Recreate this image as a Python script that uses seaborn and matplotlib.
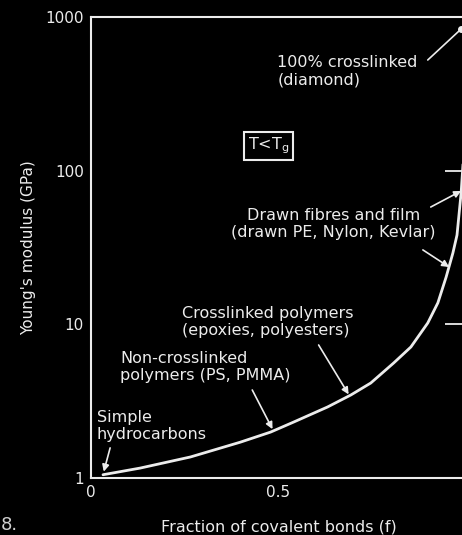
import numpy as np
import pandas as pd
import matplotlib
matplotlib.use("Agg")
import matplotlib.pyplot as plt
import seaborn as sns

# Curve data (fraction of covalent bonds vs Young's modulus, GPa)
f_values = [0.032, 0.131, 0.265, 0.398, 0.479, 0.540, 0.631, 0.693, 0.746, 0.807,
            0.853, 0.898, 0.925, 0.947, 0.965, 0.976, 0.987, 0.992]
E_values = [1.05, 1.16, 1.37, 1.71, 1.99, 2.31, 2.90, 3.47, 4.15, 5.60,
            7.12, 10.2, 13.8, 20.3, 29.1, 38.1, 71.6, 110.0]
diamond_f = [0.987]
diamond_E = [835.0]

x_ticks = [0, 0.5]
x_tick_labels = ["0", "0.5"]
y_ticks = [1, 10, 100, 1000]
y_tick_labels = ["1", "10", "100", "1000"]

labels = {
    "diamond": "100% crosslinked\n(diamond)",
    "fibres": "Drawn fibres and film\n(drawn PE, Nylon, Kevlar)",
    "crosslinked": "Crosslinked polymers\n(epoxies, polyesters)",
    "noncross": "Non-crosslinked\npolymers (PS, PMMA)",
    "simple": "Simple\nhydrocarbons",
}

sns.set_style("dark")
plt.rcParams["font.family"] = ["DejaVu Sans"]
FG = "#ececec"

W, H = 462, 535
fig = plt.figure(figsize=(W / 100, H / 100), dpi=100, facecolor="black")
ax = fig.add_axes([91 / W, (H - 478) / H, (466 - 91) / W, (478 - 17) / H])
ax.set_facecolor("black")

df = pd.DataFrame({"f": f_values, "E": E_values})
sns.lineplot(data=df, x="f", y="E", ax=ax, color=FG, lw=2.0, sort=True)
ax.plot(diamond_f, diamond_E, "o", color=FG, ms=4, clip_on=False)

ax.set_yscale("log")
ax.set_xlim(0, 1.0)
ax.set_ylim(1, 1000)
ax.set_xticks(x_ticks)
ax.set_xticklabels(x_tick_labels)
ax.set_yticks(y_ticks)
ax.set_yticklabels(y_tick_labels)
ax.yaxis.set_minor_locator(matplotlib.ticker.NullLocator())
ax.grid(False)
for s in ax.spines.values():
    s.set_color(FG)
    s.set_linewidth(1.5)
    s.set_visible(True)
ax.tick_params(axis="both", which="major", direction="in", length=15, width=1.3,
               color=FG, labelcolor=FG, labelsize=11, right=True, top=False, pad=5)
ax.set_xlabel("Fraction of covalent bonds (f)", color=FG, fontsize=11.5, labelpad=14)
ax.set_ylabel("Young's modulus (GPa)", color=FG, fontsize=11, labelpad=7)

tk = dict(color=FG, fontsize=11.5, va="top")
ap = dict(arrowstyle="-|>", color=FG, lw=1.2, mutation_scale=10, shrinkA=0, shrinkB=0)
ax.text(0.497, 566, labels["diamond"], ha="left", **tk)
ax.annotate("", xy=(diamond_f[0], diamond_E[0]), xytext=(0.898, 525),
            arrowprops=dict(arrowstyle="-", color=FG, lw=1.2, shrinkA=0, shrinkB=0))
ax.text(0.473, 145, r"T<T$_\mathrm{g}$", color=FG, fontsize=11.5, ha="center", va="center",
        bbox=dict(boxstyle="square,pad=0.25", fc="black", ec=FG, lw=1.5))
ax.text(0.647, 57.2, labels["fibres"], ha="center", **tk)
ax.annotate("", xy=(0.987, 73.8), xytext=(0.906, 58.0), arrowprops=ap)
ax.annotate("", xy=(0.955, 23.6), xytext=(0.885, 30.5), arrowprops=ap)
ax.text(0.243, 13.2, labels["crosslinked"], ha="left", **tk)
ax.annotate("", xy=(0.687, 3.50), xytext=(0.607, 7.34), arrowprops=ap)
ax.text(0.078, 6.7, labels["noncross"], ha="left", **tk)
ax.annotate("", xy=(0.484, 2.08), xytext=(0.430, 3.74), arrowprops=ap)
ax.text(0.016, 2.77, labels["simple"], ha="left", **tk)
ax.annotate("", xy=(0.034, 1.10), xytext=(0.051, 1.57), arrowprops=ap)

fig.text(1 / W, 1 / H, "8.", color="#d0d0d0", fontsize=13, ha="left", va="bottom")

fig.savefig("out.png", dpi=100, facecolor="black")
